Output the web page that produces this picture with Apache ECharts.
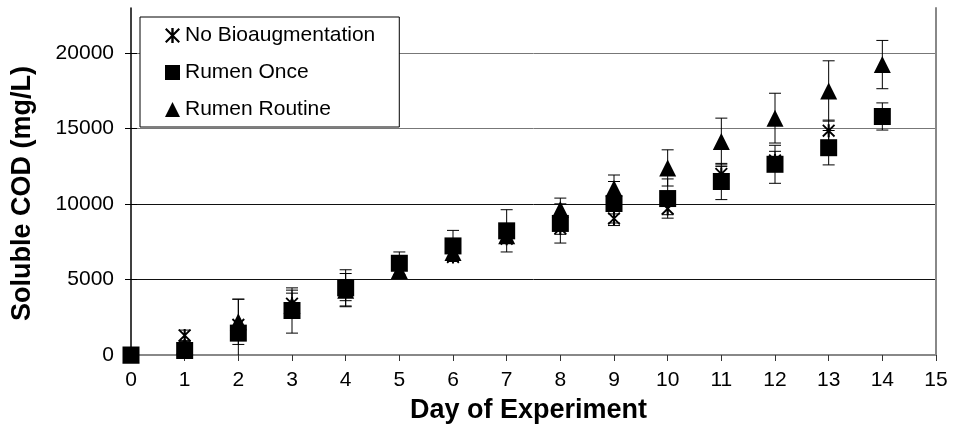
<!DOCTYPE html>
<html>
<head>
<meta charset="utf-8">
<script src="https://cdn.jsdelivr.net/npm/echarts@6/dist/echarts.min.js"></script>
<style>
  html, body { margin: 0; padding: 0; background: #fff; }
  #chart { width: 956px; height: 430px; }
</style>
</head>
<body>
<div id="chart"></div>
<script>
// Soluble COD over the course of the digestion experiment
const days = [0, 1, 2, 3, 4, 5, 6, 7, 8, 9, 10, 11, 12, 13, 14];
const yTicks = [0, 5000, 10000, 15000, 20000];

// No Bioaugmentation (days 0-13)
const noBioMean = [0, 1300, 2000, 3400, 4300, 5500, 6500, 7700, 8400, 9050, 9700, 12000, 12900, 14870];
const noBioErr  = [0, 350, 0, 900, 1100, 400, 300, 300, 400, 300, 400, 500, 600, 700];

// Rumen Once
const onceMean = [0, 300, 1450, 2950, 4450, 6080, 7230, 8230, 8720, 10040, 10370, 11500, 12640, 13740, 15810];
const onceErr  = [0, 200, 2250, 1500, 1200, 750, 1030, 1400, 1300, 1460, 1300, 1200, 1260, 1140, 900];

// Rumen Routine
const routineMean = [0, 600, 2200, 3300, 4300, 5600, 6800, 7900, 9650, 11030, 12400, 14150, 15700, 17500, 19250];
const routineErr  = [0, 300, 1500, 800, 700, 500, 500, 500, 750, 900, 1200, 1550, 1650, 2000, 1600];

const FONT = '"Liberation Sans", Arial, sans-serif';
const ASTERISK = 'path://M4.2,0 L5.8,0 L5.8,10 L4.2,10 Z M0,1 L1,0 L10,9 L9,10 Z M9,0 L10,1 L1,10 L0,9 Z';

function points(mean) {
  return mean.map((v, i) => [days[i], v]);
}
function bars(mean, err) {
  return mean.map((v, i) => [days[i], v, err[i]]);
}

// vertical error bar with caps; the lower end stops at the axis
function renderErr(params, api) {
  const x = api.value(0), y = api.value(1), e = api.value(2);
  if (!e) return null;
  const hw = 6;
  const top = api.coord([x, y + e]);
  const lowVal = y - e;
  const bot = api.coord([x, Math.max(lowVal, 0)]);
  const st = { stroke: '#000', lineWidth: 1 };
  const kids = [
    { type: 'line', shape: { x1: top[0], y1: top[1], x2: bot[0], y2: bot[1] }, style: st },
    { type: 'line', shape: { x1: top[0] - hw, y1: top[1], x2: top[0] + hw, y2: top[1] }, style: st }
  ];
  if (lowVal >= 0) {
    kids.push({ type: 'line', shape: { x1: bot[0] - hw, y1: bot[1], x2: bot[0] + hw, y2: bot[1] }, style: st });
  }
  return { type: 'group', children: kids };
}

const chart = echarts.init(document.getElementById('chart'), null, { renderer: 'canvas' });

const yBase = { type: 'value', min: 0, max: 23000 };
const plain = v => String(v);

chart.setOption({
  animation: false,
  backgroundColor: '#fff',
  textStyle: { fontFamily: FONT, color: '#000' },
  grid: { left: 131, right: 20, top: 8, bottom: 75, containLabel: false },
  legend: {
    orient: 'vertical',
    left: 140,
    top: 17,
    padding: [8, 24, 7, 25],
    itemGap: 16,
    itemWidth: 15,
    itemHeight: 15,
    borderColor: '#000',
    borderWidth: 1,
    backgroundColor: '#fff',
    textStyle: { fontFamily: FONT, fontSize: 21, color: '#000', lineHeight: 20 },
    data: [
      { name: 'No Bioaugmentation', icon: ASTERISK },
      { name: 'Rumen Once', icon: 'rect' },
      { name: 'Rumen Routine', icon: 'triangle' }
    ]
  },
  xAxis: [
    {
      type: 'value', min: 0, max: 15, interval: 1,
      name: 'Day of Experiment', nameLocation: 'middle', nameGap: 42,
      nameTextStyle: { fontFamily: FONT, fontSize: 27, fontWeight: 'bold', color: '#000', padding: [0, 10, 0, 0] },
      axisLine: { lineStyle: { color: '#808080', width: 2 } },
      axisTick: { show: true, inside: false, length: 6, lineStyle: { color: '#333' } },
      axisLabel: { fontFamily: FONT, fontSize: 21, color: '#000', margin: 15, formatter: plain },
      splitLine: { show: false }
    },
    {
      type: 'value', min: 0, max: 15, position: 'top',
      axisLine: { show: true, lineStyle: { color: '#888', width: 2 } },
      axisTick: { show: false }, axisLabel: { show: false }, splitLine: { show: false }
    }
  ],
  yAxis: [
    Object.assign({}, yBase, {
      name: 'Soluble COD (mg/L)', nameLocation: 'middle', nameGap: 95,
      nameTextStyle: { fontFamily: FONT, fontSize: 27, fontWeight: 'bold', color: '#000', padding: [0, 24, 0, 0] },
      axisLine: { show: true, lineStyle: { color: '#000', width: 1.5 } },
      axisTick: { show: true, length: 6, customValues: yTicks, lineStyle: { color: '#000' } },
      axisLabel: { fontFamily: FONT, fontSize: 21, color: '#000', margin: 17, customValues: yTicks, formatter: plain },
      splitLine: { show: true, lineStyle: { color: ['#000', '#111', '#111', '#777', '#777'], width: 1 } }
    }),
    Object.assign({}, yBase, {
      position: 'left',
      axisLine: { show: false },
      axisTick: { show: true, inside: true, length: 6, customValues: yTicks, lineStyle: { color: '#000' } },
      axisLabel: { show: false, customValues: yTicks },
      splitLine: { show: false }
    }),
    Object.assign({}, yBase, {
      position: 'right',
      axisLine: { show: true, lineStyle: { color: '#888', width: 2 } },
      axisTick: { show: false }, axisLabel: { show: false }, splitLine: { show: false }
    })
  ],
  series: [
    { name: 'err-noBio', type: 'custom', z: 1, renderItem: renderErr, data: bars(noBioMean, noBioErr), encode: { x: 0, y: 1 } },
    { name: 'No Bioaugmentation', type: 'scatter', z: 3, symbol: ASTERISK, symbolSize: 13,
      itemStyle: { color: '#000', opacity: 1 }, data: points(noBioMean) },
    { name: 'err-once', type: 'custom', z: 1, renderItem: renderErr, data: bars(onceMean, onceErr), encode: { x: 0, y: 1 } },
    { name: 'Rumen Once', type: 'scatter', z: 3, symbol: 'rect', symbolSize: 17,
      itemStyle: { color: '#000', opacity: 1 }, data: points(onceMean) },
    { name: 'err-routine', type: 'custom', z: 1, renderItem: renderErr, data: bars(routineMean, routineErr), encode: { x: 0, y: 1 } },
    { name: 'Rumen Routine', type: 'scatter', z: 3, symbol: 'triangle', symbolSize: 17,
      itemStyle: { color: '#000', opacity: 1 }, data: points(routineMean) }
  ]
});
</script>
</body>
</html>
